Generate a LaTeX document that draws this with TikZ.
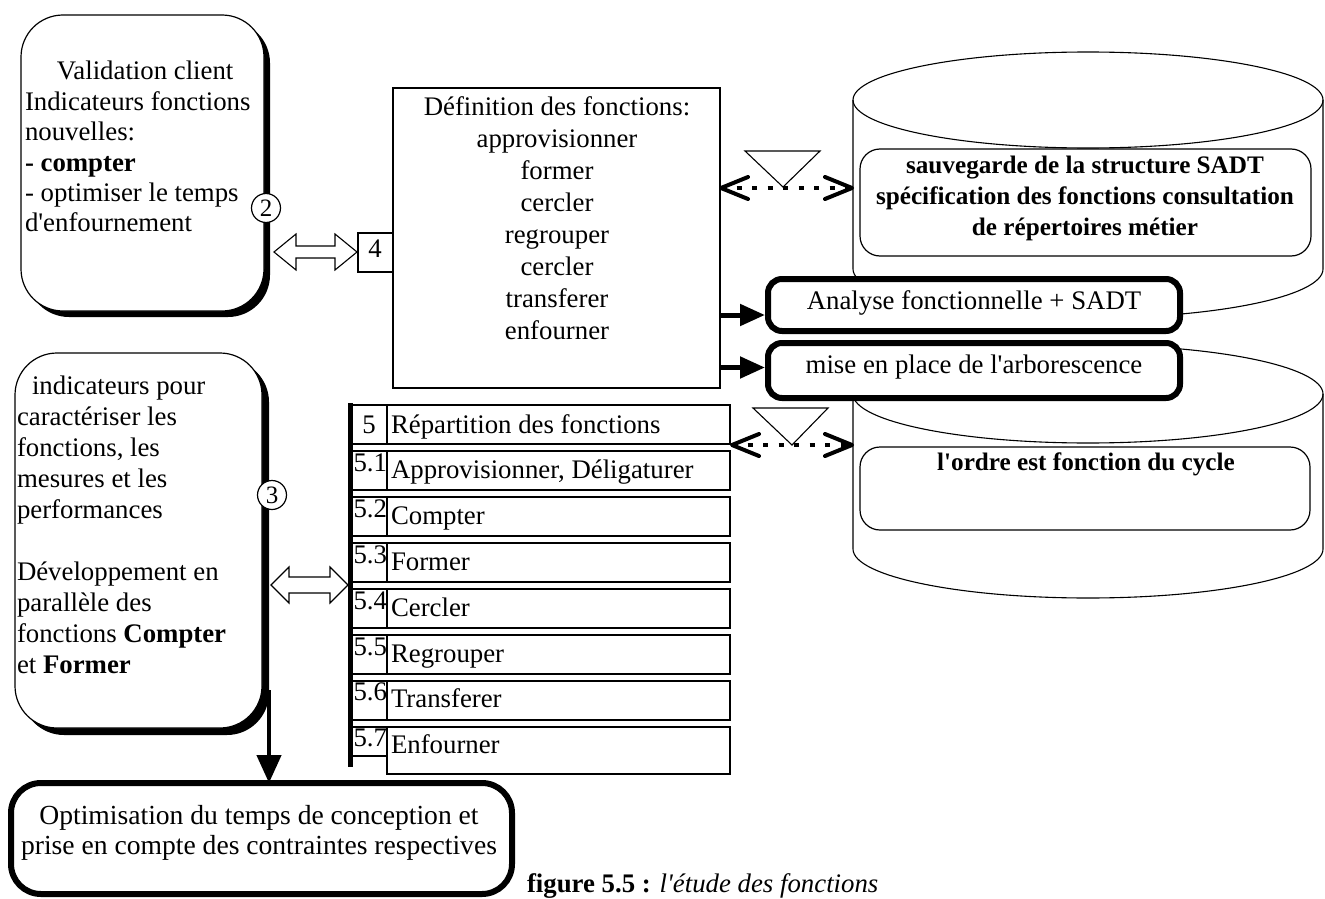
\documentclass[tikz,border=0pt]{standalone}
\usepackage{fontspec}
\setmainfont{Liberation Serif}
\usetikzlibrary{arrows.meta,calc,shadows}
\newcommand\fsz[2]{\fontsize{#1}{#2}\selectfont}
\newcommand\tabl[1]{\begin{tabular}[t]{@{}l@{}}#1\end{tabular}}
\newcommand\tabc[1]{\begin{tabular}[t]{@{}c@{}}#1\end{tabular}}
\newcommand\apo{\textquotesingle}
\begin{document}
\begin{tikzpicture}[x=1pt,y=-1pt,line width=1.2pt,
  every node/.style={outer sep=0pt, font=\fsz{26.8}{32}},
  shbox/.style={draw, fill=white, rounded corners=42pt, anchor=north west, drop shadow={shadow xshift=6pt,shadow yshift=-6pt,opacity=1,fill=black}},
  fatbox/.style={draw, fill=white, line width=6pt, rounded corners=14pt, anchor=north west},
  plainbox/.style={draw, fill=white, anchor=north west, inner sep=0pt},
  softbox/.style={draw, fill=white, rounded corners=20pt, anchor=north west},
  txt/.style={inner sep=0pt, anchor=base west},
  ctxt/.style={inner sep=0pt, anchor=base},
  numcirc/.style={circle, draw, fill=white, minimum size=29pt, inner sep=0pt, font=\fsz{25}{25}},
  fatarrow/.style={line width=5pt, -{Triangle[length=25pt,width=21pt]}},
  dotl/.style={line width=3.5pt, dash pattern=on 5pt off 10.5pt},
  barb/.style={line width=4pt, line join=round, line cap=round},
  hollow/.style={draw, fill=white, line width=1.1pt},
  cyl/.style={draw, fill=white, line width=1.1pt}
]
\useasboundingbox (0,0) rectangle (1325,899);

% ---- cylinders
\path[cyl] (853,100) -- (853,269) .. controls (853,296.1) and (958.2,318) .. (1088,318) .. controls (1217.8,318) and (1323,296.1) .. (1323,269) -- (1323,100) .. controls (1323,73.5) and (1217.8,52) .. (1088,52) .. controls (958.2,52) and (853,73.5) .. (853,100) -- cycle;
\draw[line width=1.1pt] (853,100) .. controls (853,126.5) and (958.2,148) .. (1088,148) .. controls (1217.8,148) and (1323,126.5) .. (1323,100);
\path[cyl] (853,394) -- (853,549) .. controls (853,576.1) and (958.2,598) .. (1088,598) .. controls (1217.8,598) and (1323,576.1) .. (1323,549) -- (1323,394) .. controls (1323,366.9) and (1217.8,345) .. (1088,345) .. controls (958.2,345) and (853,366.9) .. (853,394) -- cycle;
\draw[line width=1.1pt] (853,394) .. controls (853,421.1) and (958.2,443) .. (1088,443) .. controls (1217.8,443) and (1323,421.1) .. (1323,394);

\node[softbox, minimum width=451pt, minimum height=107pt] (s1) at (860,149) {};
\node[ctxt, font=\fsz{25.2}{31.3}\bfseries] (s1t) at (1085,173) {\tabc{sauvegarde de la structure SADT\\ spécification des fonctions consultation\\ de répertoires métier}};
\node[softbox, minimum width=450pt, minimum height=83pt] (s2) at (860,447) {};
\node[ctxt, font=\fsz{25.2}{31.3}\bfseries] (s2t) at (1086,470) {l\apo ordre est fonction du cycle};

% ---- top left box
\node[shbox, minimum width=243pt, minimum height=296pt] (b1) at (21,15) {};
\node[txt, font=\fsz{26.8}{30.4}] (b1t) at (25,80) {\tabl{\hspace*{32pt}Validation client\\ Indicateurs fonctions\\ nouvelles:\\ \textbf{- compter}\\ - optimiser le temps\\ d\apo enfournement}};
\node[numcirc] (c2) at (266,208) {2};

% ---- definition box
\node[plainbox, minimum width=327pt, minimum height=300pt] (defb) at (393,88) {};
\node[ctxt, font=\fsz{26.8}{32}] (defbt) at (557,115) {\tabc{Définition des fonctions:\\ approvisionner\\ former\\ cercler\\ regrouper\\ cercler\\ transferer\\ enfourner}};
\node[plainbox, minimum width=35pt, minimum height=39pt] (b4) at (358,233) {};
\node[ctxt] (b4t) at (375,257) {4};

% hollow arrow b1 <-> b4
\path[hollow] (274,252) -- (296,234) -- (296,246) -- (335,246) -- (335,234) -- (357,252) -- (335,270) -- (335,258) -- (296,258) -- (296,270) -- cycle;

% ---- analyse / mise en place
\node[fatbox, minimum width=412pt, minimum height=52pt] (ana) at (768,279) {};
\node[ctxt] (anat) at (974,309) {Analyse fonctionnelle + SADT};
\node[fatbox, minimum width=412pt, minimum height=55pt] (mise) at (768,343) {};
\node[ctxt] (miset) at (974,373) {mise en place de l\apo arborescence};
\coordinate (a1) at ($(ana.west)+(-3,10)$);
\coordinate (a2) at ($(mise.west)+(-3,-3)$);
\draw[fatarrow] (defb.east |- a1) -- (a1);
\draw[fatarrow] (defb.east |- a2) -- (a2);

% ---- dotted links with triangles
\draw[fill=white, line width=1.1pt] (745,151) -- (820,151) -- (783,187) -- cycle;
\coordinate (p1) at (721,188); \coordinate (q1) at (852,188);
\draw[dotl] (p1) -- (q1);
\draw[barb] ($(p1)+(27,-11)$) -- (p1) -- ($(p1)+(27,11)$);
\draw[barb] ($(q1)+(-27,-11)$) -- (q1) -- ($(q1)+(-27,11)$);

\draw[fill=white, line width=1.1pt] (753,408) -- (828,408) -- (792,445) -- cycle;
\coordinate (p2) at (732,445); \coordinate (q2) at (852,445);
\draw[dotl] (p2) -- (q2);
\draw[barb] ($(p2)+(27,-11)$) -- (p2) -- ($(p2)+(27,11)$);
\draw[barb] ($(q2)+(-27,-11)$) -- (q2) -- ($(q2)+(-27,11)$);

% ---- second left box
\node[shbox, minimum width=247pt, minimum height=375pt, drop shadow={shadow xshift=7pt,shadow yshift=-7pt,opacity=1,fill=black}] (b3) at (15,353) {};
\node[txt, font=\fsz{26.8}{31}] (b3t) at (17,394) {\tabl{\hspace*{15pt}indicateurs pour\\ caractériser les\\ fonctions, les\\ mesures et les\\ performances\\ \\ Développement en\\ parallèle des\\ fonctions \textbf{Compter}\\ et \textbf{Former}}};
\node[numcirc] (c3) at (272,495) {3};

% hollow arrow b3 <-> table
\path[hollow] (271,585) -- (289,567) -- (289,577) -- (330,577) -- (330,567) -- (348,585) -- (330,603) -- (330,593) -- (289,593) -- (289,603) -- cycle;

% ---- table
\foreach \i/\t in {0/{Répartition des fonctions},1/{Approvisionner, Déligaturer},2/Compter,3/Former,4/Cercler,5/Regrouper,6/Transferer,7/Enfourner}{
  \pgfmathsetmacro\tp{405+46*\i}
  \pgfmathsetmacro\hh{\i==7?47:39}
  \pgfmathsetmacro\hn{\i==7?29:39}
  \pgfmathsetmacro\bl{433+45.8*\i}
  \node[plainbox, line width=1.1pt, minimum width=37pt, minimum height=\hn] (n\i) at (350,\tp) {};
  \node[plainbox, line width=1.1pt, minimum width=343pt, minimum height=\hh] (r\i) at (387,\tp) {};
  \node[txt] (rt\i) at (391,\bl) {\t};
}
\node[ctxt] (nt0) at (369,433) {5};
\foreach \i/\n in {1/5.1,2/5.2,3/5.3,4/5.4,5/5.5,6/5.6,7/5.7}{
  \pgfmathsetmacro\bl{433+45.8*\i-7}
  \node[txt] (nt\i) at (353.5,\bl) {\n};
}
\draw[line width=5pt] (n0.north west) ++(0,-2) -- ($(n7.south west)+(0,11)$);

% ---- bottom box
\node[fatbox, rounded corners=30pt, minimum width=501pt, minimum height=111pt] (opt) at (11,783) {};
\node[ctxt, font=\fsz{27.6}{30}] (optt) at (259,824) {\tabc{Optimisation du temps de conception et\\ prise en compte des contraintes respectives}};
\coordinate (d0) at (269,690);
\draw[line width=4.5pt, -{Triangle[length=28pt,width=24pt]}] (d0) -- (d0 |- opt.north);

% ---- caption
\node[txt] (cap) at (527,892) {\textbf{figure 5.5 :} \textit{l\apo étude des fonctions}};
\end{tikzpicture}
\end{document}
